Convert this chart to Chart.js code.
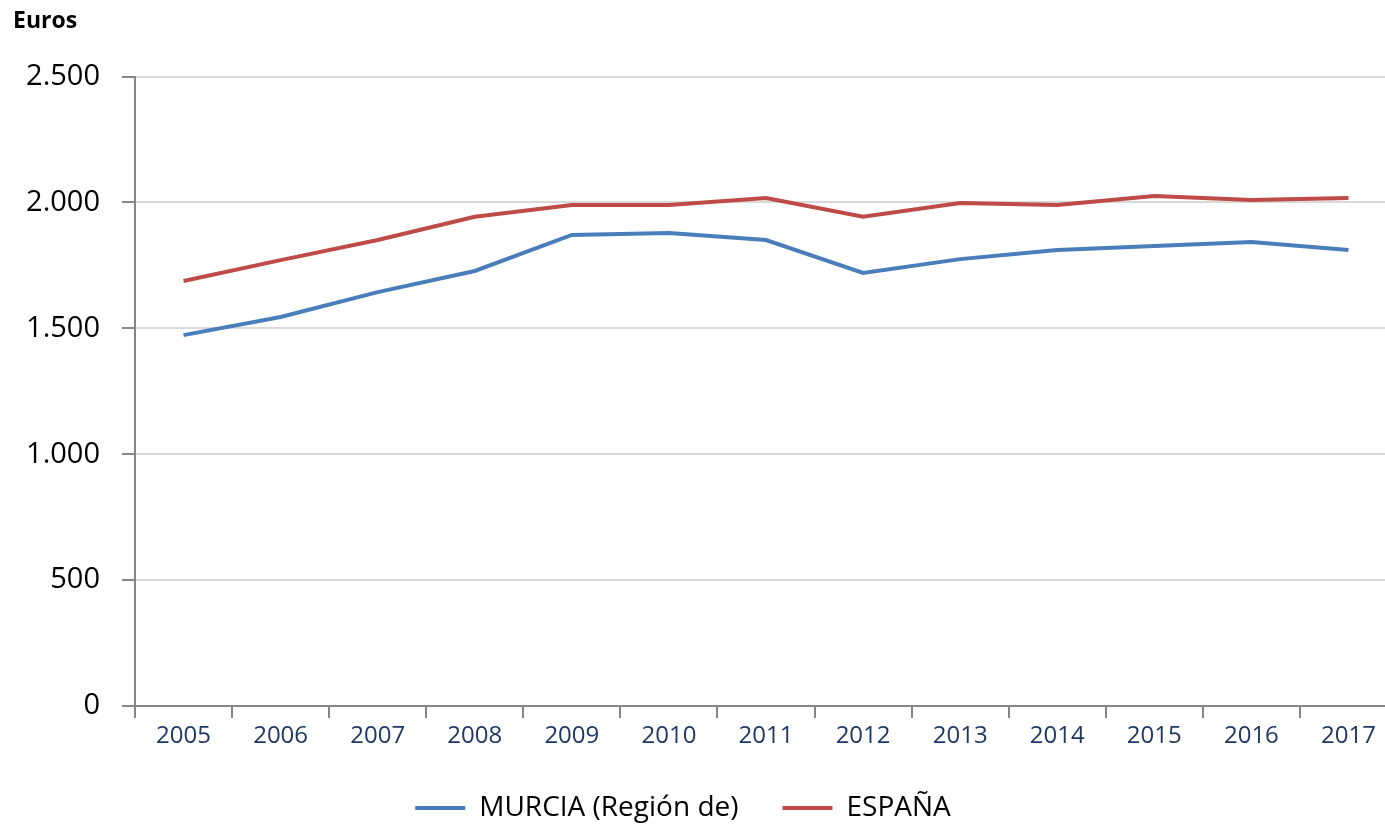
<!DOCTYPE html>
<html>
<head>
<meta charset="utf-8">
<script src="https://cdn.jsdelivr.net/npm/chart.js@4/dist/chart.umd.min.js"></script>
<style>
    html, body { margin: 0; padding: 0; background: #fff; }
    #wrap { width: 1385px; height: 826px; overflow: hidden; }
</style>
</head>
<body>
<div id="wrap"><canvas id="chart" width="1397" height="826"></canvas></div>
<script>
const years = ['2005', '2006', '2007', '2008', '2009', '2010', '2011', '2012', '2013', '2014', '2015', '2016', '2017'];
const murcia = [1473, 1545, 1644, 1728, 1871, 1879, 1851, 1720, 1775, 1811, 1827, 1843, 1811];
const espana = [1688, 1771, 1851, 1943, 1990, 1990, 2018, 1943, 1998, 1990, 2026, 2010, 2018];
const yTicks = [0, 500, 1000, 1500, 2000, 2500];

const font = "'Open Sans', 'DejaVu Sans', sans-serif";

// the legend sits a bit left of centre in the original
const shiftLegend = {
    id: 'shiftLegend',
    afterLayout(chart) {
        chart.legend.left -= 22;
        chart.legend.right -= 22;
    }
};

new Chart(document.getElementById('chart').getContext('2d'), {
    type: 'line',
    data: {
        labels: years,
        datasets: [{
            label: 'MURCIA (Región de)',
            data: murcia,
            borderColor: '#4a7ebb',
            backgroundColor: '#4a7ebb',
            borderWidth: 4,
            pointRadius: 0,
            tension: 0
        }, {
            label: 'ESPAÑA',
            data: espana,
            borderColor: '#be4b48',
            backgroundColor: '#be4b48',
            borderWidth: 4,
            pointRadius: 0,
            tension: 0
        }]
    },
    options: {
        responsive: false,
        animation: false,
        layout: { padding: { left: 13, right: 0, top: 0, bottom: -6 } },
        plugins: {
            title: {
                display: true,
                text: 'Euros',
                align: 'start',
                color: '#000',
                font: { family: font, size: 23, weight: 'bold' },
                padding: { top: 8, bottom: 41 }
            },
            legend: {
                position: 'bottom',
                labels: {
                    usePointStyle: true,
                    pointStyle: 'line',
                    pointStyleWidth: 50,
                    boxHeight: 4,
                    color: '#000',
                    font: { family: font, size: 28 },
                    padding: 44
                }
            },
            tooltip: { enabled: false }
        },
        scales: {
            x: {
                offset: true,
                afterFit: axis => { axis.height = 44; },
                grid: {
                    offset: true,
                    drawOnChartArea: false,
                    tickColor: '#868686',
                    tickLength: 12,
                    lineWidth: 2
                },
                border: { color: '#868686', width: 2 },
                ticks: {
                    color: '#1f3864',
                    font: { family: font, size: 24 },
                    maxRotation: 0,
                    padding: 4
                }
            },
            y: {
                min: 0,
                max: 2500,
                afterBuildTicks: axis => { axis.ticks = yTicks.map(v => ({ value: v })); },
                afterFit: axis => { axis.width = 122; },
                grid: {
                    color: '#d9d9d9',
                    lineWidth: 2,
                    tickColor: '#868686',
                    tickLength: 13
                },
                border: { color: '#868686', width: 2 },
                ticks: {
                    color: '#000',
                    font: { family: font, size: 29 },
                    padding: 22,
                    callback: v => v.toLocaleString('de-DE')
                }
            }
        }
    },
    plugins: [shiftLegend]
});
</script>
</body>
</html>
